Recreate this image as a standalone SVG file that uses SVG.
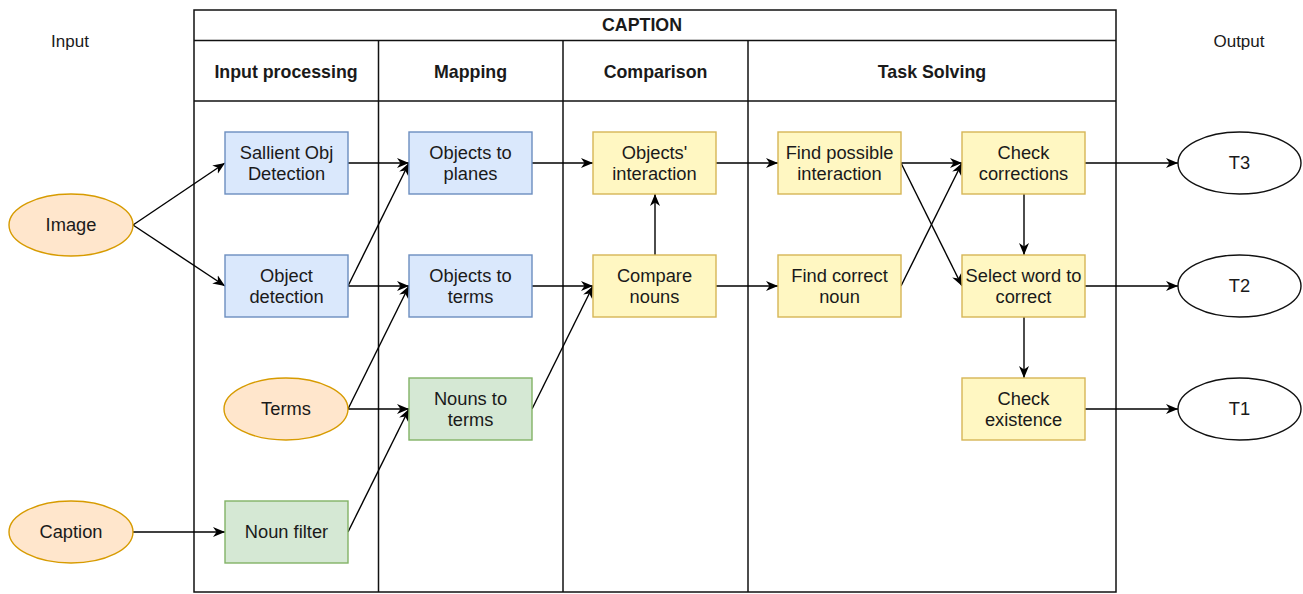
<svg xmlns="http://www.w3.org/2000/svg" width="1303" height="594" viewBox="0 0 1303 594">
<style>
text{font-family:"Liberation Sans",Arial,sans-serif;fill:#1a1a1a;text-anchor:middle}
.t{font-size:18.3px}
.h{font-size:17.8px;font-weight:bold}
.lbl{font-size:17px}
.grid{stroke:#111;stroke-width:1.5;fill:none}
.blue{fill:#dae8fc;stroke:#6c8ebf;stroke-width:1.4}
.green{fill:#d5e8d4;stroke:#82b366;stroke-width:1.4}
.yellow{fill:#fff7c2;stroke:#d6b656;stroke-width:1.4}
.orange{fill:#ffe6cc;stroke:#d79b00;stroke-width:1.4}
.white{fill:#fff;stroke:#111;stroke-width:1.4}
.c line{stroke:#000;stroke-width:1.4;marker-end:url(#arr)}
</style>
<defs>
<marker id="arr" markerUnits="userSpaceOnUse" markerWidth="13" markerHeight="11" refX="12" refY="5.5" orient="auto" viewBox="0 0 13 11">
<path d="M0,0.5 L12,5.5 L0,10.5 L3.5,5.5 Z" fill="#000"/>
</marker>
</defs>
<rect width="1303" height="594" fill="#fff"/>
<g id="table">
<rect class="grid" x="194" y="10" width="922" height="582"/>
<line class="grid" x1="194" y1="40.5" x2="1116" y2="40.5"/>
<line class="grid" x1="194" y1="101" x2="1116" y2="101"/>
<line class="grid" x1="378.5" y1="40.5" x2="378.5" y2="592"/>
<line class="grid" x1="563" y1="40.5" x2="563" y2="592"/>
<line class="grid" x1="748" y1="40.5" x2="748" y2="592"/>
<text class="h" x="642" y="31">CAPTION</text>
<text class="h" x="286" y="78">Input processing</text>
<text class="h" x="470.5" y="78">Mapping</text>
<text class="h" x="655.5" y="78">Comparison</text>
<text class="h" x="932" y="78">Task Solving</text>
</g>
<text class="lbl" x="70" y="47">Input</text>
<text class="lbl" x="1239" y="47">Output</text>
<g class="c" id="connectors">
<line x1="133" y1="225" x2="225" y2="163"/>
<line x1="133" y1="225" x2="225" y2="286"/>
<line x1="133" y1="532" x2="225" y2="532"/>
<line x1="348" y1="163" x2="409" y2="163"/>
<line x1="348" y1="286" x2="409" y2="163"/>
<line x1="348" y1="286" x2="409" y2="286"/>
<line x1="348" y1="409" x2="409" y2="286"/>
<line x1="348" y1="409" x2="409" y2="409"/>
<line x1="348" y1="532" x2="409" y2="409"/>
<line x1="532" y1="163" x2="593" y2="163"/>
<line x1="532" y1="286" x2="593" y2="286"/>
<line x1="532" y1="409" x2="593" y2="286"/>
<line x1="655" y1="255" x2="655" y2="194"/>
<line x1="716" y1="163" x2="778" y2="163"/>
<line x1="716" y1="286" x2="778" y2="286"/>
<line x1="901" y1="163" x2="962" y2="163"/>
<line x1="901" y1="163" x2="962" y2="286"/>
<line x1="901" y1="286" x2="962" y2="163"/>
<line x1="1024" y1="194" x2="1024" y2="255"/>
<line x1="1024" y1="317" x2="1024" y2="378"/>
<line x1="1085" y1="163" x2="1178" y2="163"/>
<line x1="1085" y1="286" x2="1178" y2="286"/>
<line x1="1085" y1="409" x2="1178" y2="409"/>
</g>
<g id="image"><ellipse class="orange" cx="71" cy="225" rx="62" ry="31"/><text class="t" x="71" y="231">Image</text></g>
<g id="terms"><ellipse class="orange" cx="286" cy="409" rx="62" ry="31"/><text class="t" x="286" y="415">Terms</text></g>
<g id="caption"><ellipse class="orange" cx="71" cy="532" rx="62" ry="31"/><text class="t" x="71" y="538">Caption</text></g>
<g id="salient"><rect class="blue" x="225" y="132" width="123" height="62"/><text class="t" x="286.5" y="159">Sallient Obj</text><text class="t" x="286.5" y="180">Detection</text></g>
<g id="objdet"><rect class="blue" x="225" y="255" width="123" height="62"/><text class="t" x="286.5" y="282">Object</text><text class="t" x="286.5" y="303">detection</text></g>
<g id="nounfilter"><rect class="green" x="225" y="501" width="123" height="62"/><text class="t" x="286.5" y="538">Noun filter</text></g>
<g id="objplanes"><rect class="blue" x="409" y="132" width="123" height="62"/><text class="t" x="470.5" y="159">Objects to</text><text class="t" x="470.5" y="180">planes</text></g>
<g id="objterms"><rect class="blue" x="409" y="255" width="123" height="62"/><text class="t" x="470.5" y="282">Objects to</text><text class="t" x="470.5" y="303">terms</text></g>
<g id="nounsterms"><rect class="green" x="409" y="378" width="123" height="62"/><text class="t" x="470.5" y="405">Nouns to</text><text class="t" x="470.5" y="426">terms</text></g>
<g id="objinter"><rect class="yellow" x="593" y="132" width="123" height="62"/><text class="t" x="654.5" y="159">Objects'</text><text class="t" x="654.5" y="180">interaction</text></g>
<g id="compare"><rect class="yellow" x="593" y="255" width="123" height="62"/><text class="t" x="654.5" y="282">Compare</text><text class="t" x="654.5" y="303">nouns</text></g>
<g id="findposs"><rect class="yellow" x="778" y="132" width="123" height="62"/><text class="t" x="839.5" y="159">Find possible</text><text class="t" x="839.5" y="180">interaction</text></g>
<g id="findnoun"><rect class="yellow" x="778" y="255" width="123" height="62"/><text class="t" x="839.5" y="282">Find correct</text><text class="t" x="839.5" y="303">noun</text></g>
<g id="checkcorr"><rect class="yellow" x="962" y="132" width="123" height="62"/><text class="t" x="1023.5" y="159">Check</text><text class="t" x="1023.5" y="180">corrections</text></g>
<g id="selectword"><rect class="yellow" x="962" y="255" width="123" height="62"/><text class="t" x="1023.5" y="282">Select word to</text><text class="t" x="1023.5" y="303">correct</text></g>
<g id="checkexist"><rect class="yellow" x="962" y="378" width="123" height="62"/><text class="t" x="1023.5" y="405">Check</text><text class="t" x="1023.5" y="426">existence</text></g>
<g id="t3"><ellipse class="white" cx="1239.5" cy="163" rx="61.5" ry="31"/><text class="t" x="1239.5" y="169">T3</text></g>
<g id="t2"><ellipse class="white" cx="1239.5" cy="286" rx="61.5" ry="31"/><text class="t" x="1239.5" y="292">T2</text></g>
<g id="t1"><ellipse class="white" cx="1239.5" cy="409" rx="61.5" ry="31"/><text class="t" x="1239.5" y="415">T1</text></g>
</svg>
